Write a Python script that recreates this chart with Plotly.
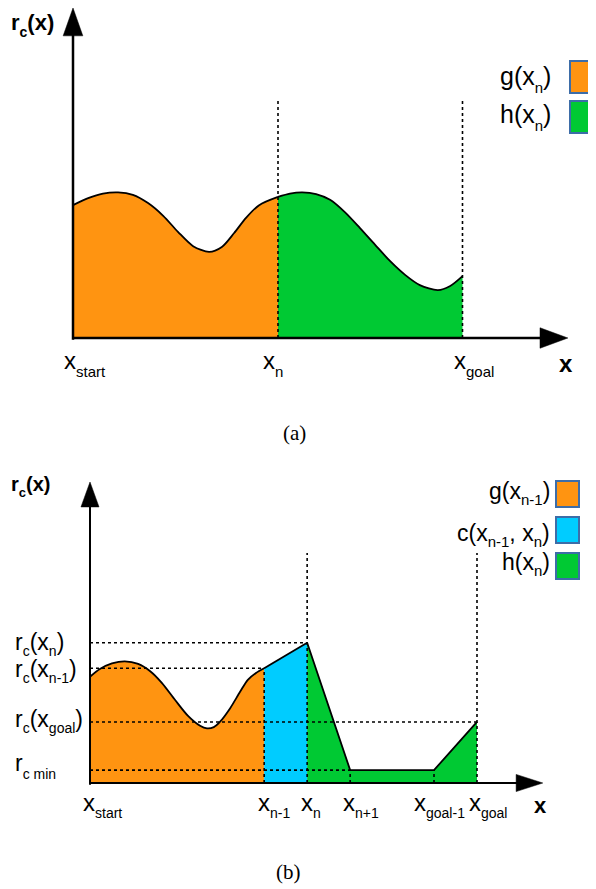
import plotly.graph_objects as go

# The page body has an 8 px margin: screen px = figure px + 8
OFF = 8
SW, SH = 596, 889             # screen size
W, H = SW - OFF, SH - OFF     # figure size
SANS = "Liberation Sans"
SERIF = "Liberation Serif"

ORANGE = "#FF9411"
GREEN = "#00C933"
CYAN = "#00CCFF"
BOXLINE = "#3D6DA8"

# ---------------- panel (a) data ----------------
a_tick_x = [0.0, 5.0, 9.5]                       # x_start, x_n, x_goal
a_tick_labels = ["start", "n", "goal"]
a_g_x = [0.00, 0.37, 0.73, 1.10, 1.46, 1.83, 2.20, 2.56, 2.93, 3.32, 3.63, 3.93, 4.22, 4.54, 5.00]
a_g_y = [3.24, 3.41, 3.52, 3.55, 3.49, 3.29, 2.98, 2.59, 2.24, 2.10, 2.22, 2.56, 2.93, 3.24, 3.44]
a_h_x = [5.00, 5.29, 5.59, 5.93, 6.27, 6.63, 7.00, 7.37, 7.73, 8.10, 8.46, 8.90, 9.20, 9.50]
a_h_y = [3.44, 3.52, 3.55, 3.51, 3.37, 3.07, 2.68, 2.27, 1.88, 1.54, 1.29, 1.17, 1.27, 1.51]
a_legend = ["g", "h"]

# ---------------- panel (b) data ----------------
b_tick_x = [0.0, 4.05, 5.05, 6.05, 8.0, 9.0]     # x_start, x_n-1, x_n, x_n+1, x_goal-1, x_goal
b_tick_labels = ["start", "n-1", "n", "n+1", "goal-1", "goal"]
b_g_x = [0.00, 0.23, 0.51, 0.81, 1.12, 1.40, 1.67, 1.98, 2.28, 2.56, 2.72, 2.88, 3.02, 3.26, 3.49, 3.67, 3.86, 4.05]
b_g_y = [2.47, 2.65, 2.78, 2.83, 2.77, 2.60, 2.33, 1.93, 1.56, 1.33, 1.27, 1.30, 1.42, 1.74, 2.12, 2.40, 2.56, 2.67]
b_c_x = [4.05, 5.05]
b_c_y = [2.67, 3.26]
b_h_x = [5.05, 6.05, 8.0, 9.0]
b_h_y = [3.26, 0.30, 0.30, 1.42]
b_levels = [3.26, 2.67, 1.42, 0.30]              # r_c(x_n), r_c(x_n-1), r_c(x_goal), r_c min
b_level_ends = [5.05, 4.05, 9.0, 6.05]

fig = go.Figure()

# panel a: 41 px per unit, origin at screen (73, 338); panel b: 43 px/unit, origin (90, 783)
SPLIT = 450
ya_dom0 = 1 - (SPLIT - OFF) / H
fig.update_layout(
    xaxis=dict(domain=[0, 1], range=[(OFF - 73) / 41, (SW - 73) / 41], visible=False, fixedrange=True),
    yaxis=dict(domain=[ya_dom0, 1], range=[(338 - SPLIT) / 41, (338 - OFF) / 41], visible=False, fixedrange=True),
    xaxis2=dict(domain=[0, 1], range=[(OFF - 90) / 43, (SW - 90) / 43], visible=False, fixedrange=True, anchor="y2"),
    yaxis2=dict(domain=[0, ya_dom0], range=[(783 - SH) / 43, (783 - SPLIT) / 43], visible=False, fixedrange=True, anchor="x2"),
)

LW = 1.8
DASH = "3px,3px"

def area(x, y, color, xa="x", ya="y", shape="spline"):
    fig.add_trace(go.Scatter(x=x, y=y, mode="lines", fill="tozeroy", fillcolor=color,
                             line=dict(color="black", width=LW, shape=shape, smoothing=0.8),
                             xaxis=xa, yaxis=ya, showlegend=False, hoverinfo="skip"))

def dline(x, y, xa="x", ya="y"):
    fig.add_trace(go.Scatter(x=x, y=y, mode="lines", line=dict(color="black", width=1.6, dash=DASH),
                             xaxis=xa, yaxis=ya, showlegend=False, hoverinfo="skip"))

# ---- panel a marks
area(a_g_x, a_g_y, ORANGE)
area(a_h_x, a_h_y, GREEN)
for xv in a_tick_x[1:]:
    dline([xv, xv], [0, 5.8])

# ---- panel b marks
area(b_g_x, b_g_y, ORANGE, "x2", "y2")
area(b_c_x, b_c_y, CYAN, "x2", "y2", shape="linear")
area(b_h_x, b_h_y, GREEN, "x2", "y2", shape="linear")
for lv, xe in zip(b_levels, b_level_ends):
    dline([0, xe], [lv, lv], "x2", "y2")
dline([b_tick_x[1], b_tick_x[1]], [0, b_levels[1]], "x2", "y2")
dline([b_tick_x[2], b_tick_x[2]], [0, 5.35], "x2", "y2")
dline([b_tick_x[5], b_tick_x[5]], [0, 5.35], "x2", "y2")
dline([b_tick_x[3], b_tick_x[3]], [0, b_levels[3]], "x2", "y2")
dline([b_tick_x[4], b_tick_x[4]], [0, b_levels[3]], "x2", "y2")

# ---- axes with arrows (shapes)
shapes = []
def seg(x0, y0, x1, y1, xr, yr, w):
    shapes.append(dict(type="line", x0=x0, y0=y0, x1=x1, y1=y1, xref=xr, yref=yr,
                       line=dict(color="black", width=w)))
def tri(path, xr, yr):
    shapes.append(dict(type="path", path=path, xref=xr, yref=yr, fillcolor="black",
                       line=dict(color="black", width=0.5)))

seg(0, -0.04, 0, 7.4, "x", "y", 2.5)
seg(0, 0, 11.4, 0, "x", "y", 2.5)
tri("M -0.24,7.37 L 0.24,7.37 L 0,8.05 Z", "x", "y")
tri("M 11.39,-0.25 L 11.39,0.25 L 12.07,0 Z", "x", "y")

seg(0, -0.04, 0, 6.45, "x2", "y2", 2)
seg(0, 0, 9.95, 0, "x2", "y2", 2)
tri("M -0.21,6.42 L 0.21,6.42 L 0,7.0 Z", "x2", "y2")
tri("M 9.91,-0.2 L 9.91,0.2 L 10.53,0 Z", "x2", "y2")

def PX(sx):
    return (sx - OFF) / W
def PY(sy):
    return 1 - (sy - OFF) / H

# legend boxes (screen px)
def box(x0, y0, x1, y1, color):
    shapes.append(dict(type="rect", xref="paper", yref="paper", x0=PX(x0), x1=PX(x1),
                       y0=PY(y1), y1=PY(y0), fillcolor=color,
                       line=dict(color=BOXLINE, width=2)))
box(570, 61, 602, 93, ORANGE)
box(570, 101, 602, 133, GREEN)
box(556, 481, 579, 507, ORANGE)
box(556, 517, 579, 543, CYAN)
box(556, 553, 579, 579, GREEN)
fig.update_layout(shapes=shapes)

# ---- text
def sub(s, size, shift):
    return f'<span style="font-size:{size}px;baseline-shift:-{shift}px">{s}</span>'

def txt(text, sx, sy, size, xanchor="left", weight="normal", family=SANS, yanchor="middle"):
    fig.add_annotation(x=PX(sx), y=PY(sy), xref="paper", yref="paper", text=text,
                       showarrow=False, xanchor=xanchor, yanchor=yanchor,
                       font=dict(size=size, family=family, color="black", weight=weight))

# panel a
txt("r" + sub("c", 14, 7) + "(x)", 9, 8, 22, weight="bold", yanchor="top")
for lab, lx in zip(a_tick_labels, [62, 261, 452]):
    txt("x" + sub(lab, 15, 8), lx, 363, 24)
txt("x", 557, 363, 24, weight="bold")
for name, cy in zip(a_legend, [79, 117]):
    txt(name + "(x" + sub("n", 15, 8) + ")", 553, cy, 25, xanchor="right")
txt("(a)", 294, 433, 21, xanchor="center", family=SERIF)

# panel b
txt("r" + sub("c", 13, 6) + "(x)", 9, 487, 20, weight="bold")
left_labels = ["r" + sub("c", 14, 6) + "(x" + sub("n", 14, 6) + ")",
               "r" + sub("c", 14, 6) + "(x" + sub("n-1", 14, 6) + ")",
               "r" + sub("c", 14, 6) + "(x" + sub("goal", 14, 6) + ")",
               "r" + sub("c min", 14, 8)]
for lab, cy in zip(left_labels, [644, 671, 721, 766]):
    txt(lab, 13, cy, 23)
for lab, lx in zip(b_tick_labels, [81, 256, 299, 341, 412, 467]):
    txt("x" + sub(lab, 14, 7), lx, 805, 24)
txt("x", 532, 805, 22, weight="bold")
b_leg = ["g(x" + sub("n-1", 15, 6) + ")",
         "c(x" + sub("n-1", 15, 6) + ", x" + sub("n", 15, 6) + ")",
         "h(x" + sub("n", 15, 6) + ")"]
for lab, cy in zip(b_leg, [493, 535, 564]):
    txt(lab, 552, cy, 23, xanchor="right")
txt("(b)", 288, 872, 21, xanchor="center", family=SERIF)

fig.update_layout(width=W, height=H, margin=dict(l=0, r=0, t=0, b=0),
                  paper_bgcolor="white", plot_bgcolor="white", showlegend=False)
fig.write_html("out.html")
